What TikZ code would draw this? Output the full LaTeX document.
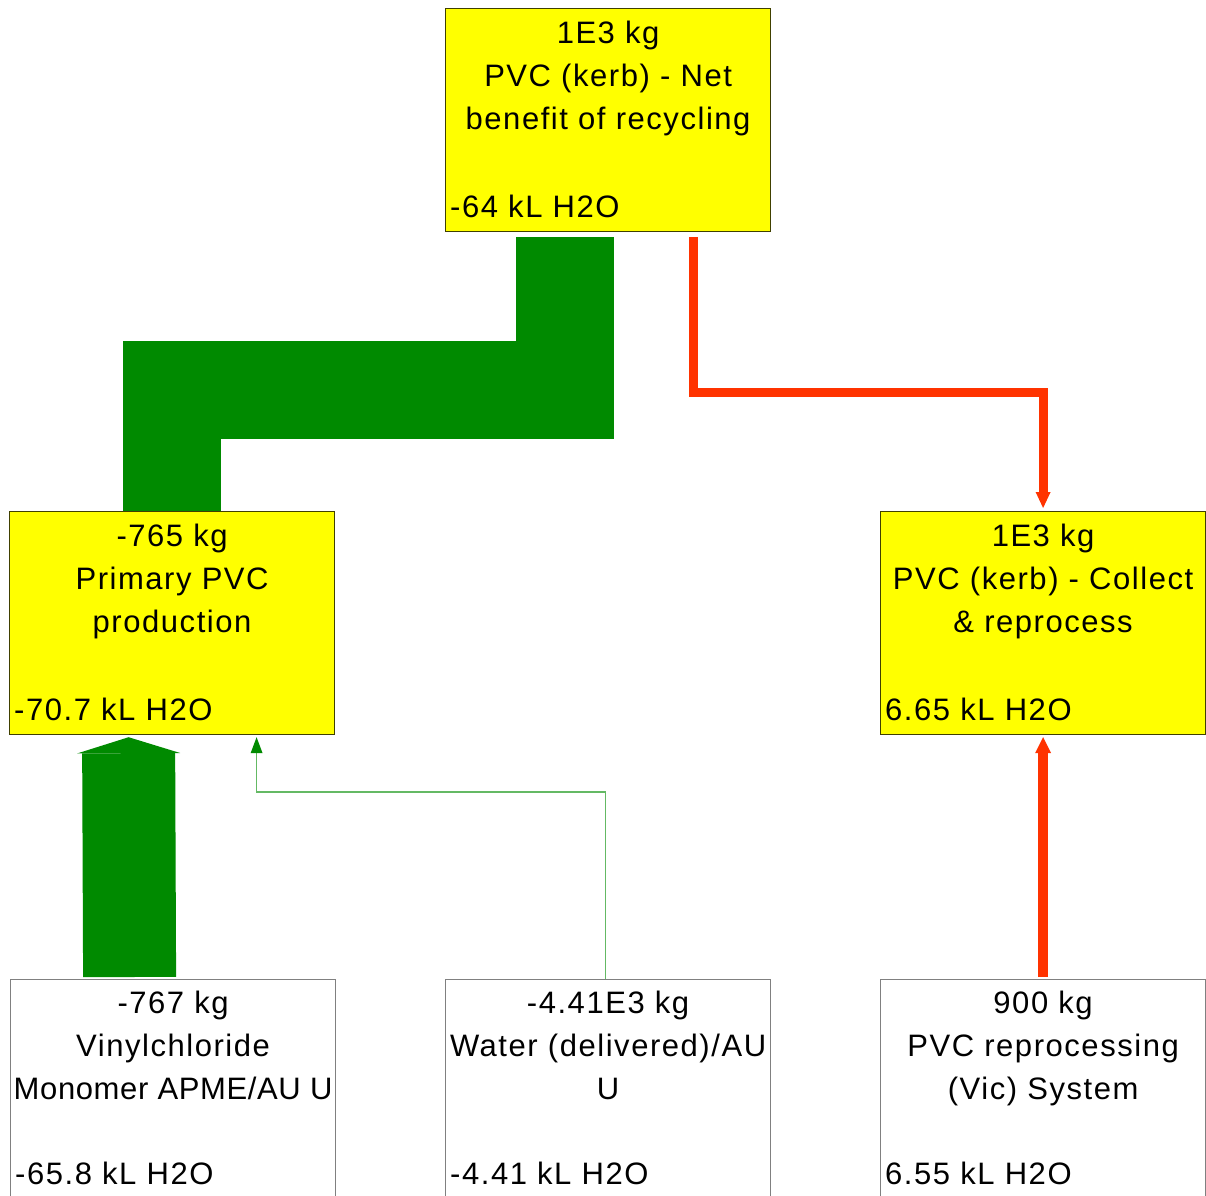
\documentclass[tikz,border=0pt]{standalone}
\usepackage{fontspec}
\setmainfont{Liberation Sans}[LetterSpace=5]
\usetikzlibrary{arrows.meta,calc}
\definecolor{flowgreen}{RGB}{0,138,0}
\definecolor{flowred}{RGB}{255,51,0}
\definecolor{lightflow}{RGB}{100,185,100}
\definecolor{boxyellow}{RGB}{255,255,0}
\definecolor{boxedge}{RGB}{64,64,0}
\begin{document}
\begin{tikzpicture}[x=1pt,y=-1pt,
 procbox/.style={rectangle, draw=boxedge, fill=boxyellow, line width=1.2pt, minimum width=325pt, minimum height=223pt, inner sep=0pt, anchor=north west},
 leafbox/.style={procbox, draw=gray},
 leafboxw/.style={leafbox, fill=white},
 txt/.style={inner sep=0pt, anchor=base, font=\fontsize{31}{37}\selectfont},
 ltxt/.style={txt, anchor=base west},
 bigflow/.style={draw=flowgreen, line width=98pt, line join=miter},
 bigarrow/.style={draw=flowgreen, line width=93pt, -{Triangle[width=103pt,length=16pt,line width=0pt]}},
 thinflow/.style={draw=lightflow, line width=1.5pt, -{Triangle[width=12pt,length=16pt,line width=0pt,color=flowgreen]}},
 redflow/.style={draw=flowred, line width=9pt, line join=miter, -{Triangle[width=15pt,length=16pt,line width=0pt]}},
 redflowb/.style={draw=flowred, line width=10pt, -{Triangle[width=16pt,length=16pt,line width=0pt]}},
]
\useasboundingbox (0,0) rectangle (1206,1195);
\clip (0,0) rectangle (1206,1195);
\fill[white] (0,0) rectangle (1206,1195);

% boxes
\node[procbox] (top) at (445,8) {};
\node[procbox] (primary) at (9,511) {};
\node[procbox] (collect) at (880,511) {};
\node[leafboxw] (vinyl) at (10,979) {};
\node[leafboxw] (water) at (445,979) {};
\node[leafboxw] (reproc) at (880,979) {};

% texts
\node[txt] (topA) at ($(top.north)+(0,35)$) {1E3 kg};
\node[txt] (topB) at ($(top.north)+(0,78)$) {PVC (kerb) - Net};
\node[txt] (topC) at ($(top.north)+(0,121)$) {benefit of recycling};
\node[ltxt] (topD) at ($(top.south west)+(5,-15)$) {-64 kL H2O};

\node[txt] (priA) at ($(primary.north)+(0,35)$) {-765 kg};
\node[txt] (priB) at ($(primary.north)+(0,78)$) {Primary PVC};
\node[txt] (priC) at ($(primary.north)+(0,121)$) {production};
\node[ltxt] (priD) at ($(primary.south west)+(5,-15)$) {-70.7 kL H2O};

\node[txt] (colA) at ($(collect.north)+(0,35)$) {1E3 kg};
\node[txt] (colB) at ($(collect.north)+(0,78)$) {PVC (kerb) - Collect};
\node[txt] (colC) at ($(collect.north)+(0,121)$) {\& reprocess};
\node[ltxt] (colD) at ($(collect.south west)+(5,-15)$) {6.65 kL H2O};

\node[txt] (vinA) at ($(vinyl.north)+(0,34)$) {-767 kg};
\node[txt] (vinB) at ($(vinyl.north)+(0,77)$) {Vinylchloride};
\node[txt] (vinC) at ($(vinyl.north)+(0,120)$) {\addfontfeature{LetterSpace=2}Monomer APME/AU U};
\node[ltxt] (vinD) at ($(vinyl.south west)+(5,-19)$) {-65.8 kL H2O};

\node[txt] (watA) at ($(water.north)+(0,34)$) {-4.41E3 kg};
\node[txt] (watB) at ($(water.north)+(0,77)$) {Water (delivered)/AU};
\node[txt] (watC) at ($(water.north)+(0,120)$) {U};
\node[ltxt] (watD) at ($(water.south west)+(5,-19)$) {-4.41 kL H2O};

\node[txt] (repA) at ($(reproc.north)+(0,34)$) {900 kg};
\node[txt] (repB) at ($(reproc.north)+(0,77)$) {PVC reprocessing};
\node[txt] (repC) at ($(reproc.north)+(0,120)$) {(Vic) System};
\node[ltxt] (repD) at ($(reproc.south west)+(5,-19)$) {6.55 kL H2O};

% connectors
\draw[bigflow] ($(top.south)+(-43,5)$) -- ++(0,153) -| (primary.north);
\draw[redflow] ($(top.south)+(85,5)$) -- ++(0,155) -| ($(collect.north)+(0,-3)$);
\draw[bigarrow] ($(vinyl.north)+(-43.5,-2)$) -- ($(primary.south)+(-43.5,2)$);
\draw[thinflow] ($(water.north)+(-2.5,0)$) -- ++(0,-187) -| ($(primary.south)+(84.5,2)$);
\draw[redflowb] ($(reproc.north)+(0,-2)$) -- ($(collect.south)+(0,2)$);
\end{tikzpicture}
\end{document}
